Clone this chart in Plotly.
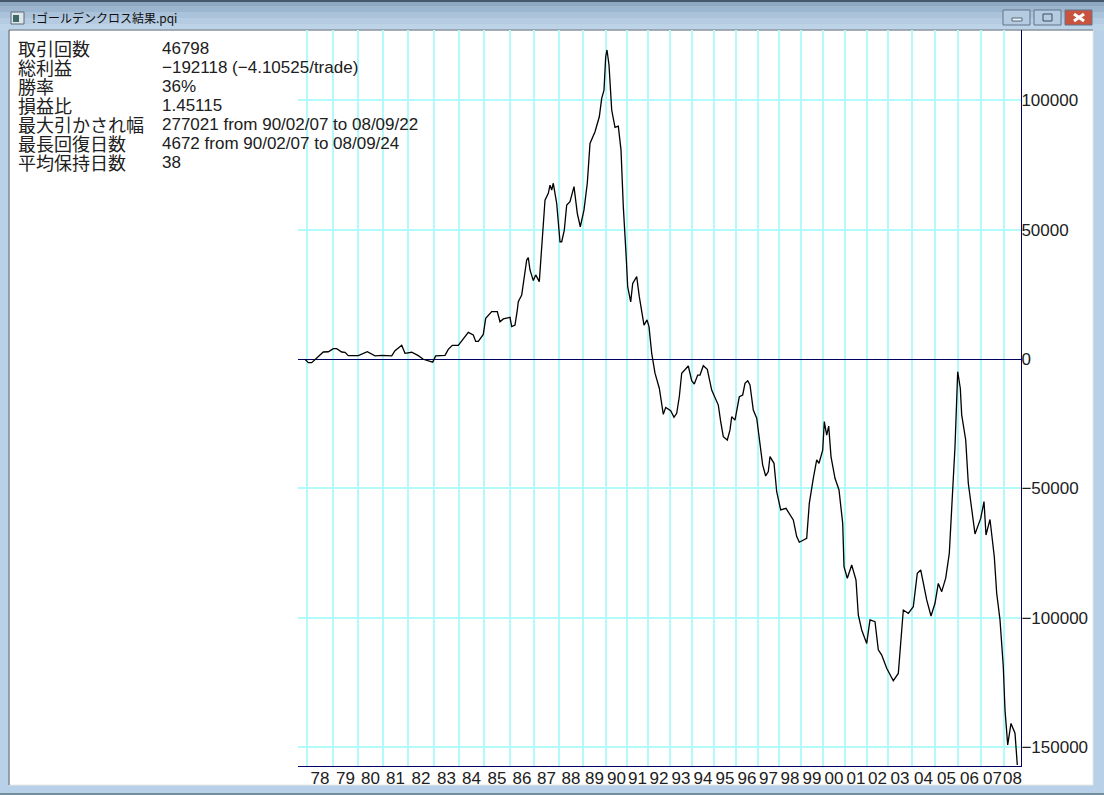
import plotly.graph_objects as go

W, H = 1104, 795
PX0, PX1, PY0, PY1 = 298, 1021, 30, 766

title = "!ゴールデンクロス結果.pqi"
stat_names = ["取引回数", "総利益", "勝率", "損益比", "最大引かされ幅", "最長回復日数", "平均保持日数"]
stat_values = ["46798", "−192118 (−4.10525/trade)", "36%", "1.45115",
               "277021 from 90/02/07 to 08/09/22", "4672 from 90/02/07 to 08/09/24", "38"]

year_labels = ["78", "79", "80", "81", "82", "83", "84", "85", "86", "87", "88", "89", "90", "91", "92", "93",
               "94", "95", "96", "97", "98", "99", "00", "01", "02", "03", "04", "05", "06", "07", "08"]
year_starts = [9, 35, 60, 85, 110, 136, 161, 186, 212, 236, 261, 285, 308, 329, 350, 372,
               394, 416, 438, 460, 481, 503, 525, 547, 569, 590, 614, 637, 660, 683, 706]
session_end = 723

y_ticks = [100000, 50000, 0, -50000, -100000, -150000]
y_text = ["100000", "50000", "0", "−50000", "−100000", "−150000"]

session = [7, 10.3, 13.7, 18.7, 25.3, 30.3, 35.3, 38.7, 43.7, 47, 50.3, 60.3, 69.3, 77, 83.7, 93.7, 97, 103.7, 107,
           113.7, 120.3, 125.3, 134.7, 137.7, 147, 150.3, 154.3, 160.3, 170.3, 175.3, 177.7, 180.3, 185.3, 187.7,
           193.7, 199.3, 202, 205.3, 212, 213.7, 217, 219.3,
           220.3, 223.7, 228.7, 230.3, 232, 235.3, 237.7, 241.3, 244.3, 247, 250.3, 252, 253.7, 255.3, 258.7, 262,
           263.7, 266.3, 268.7, 272, 276, 279.3, 282.3, 286, 289.3, 292, 297, 301.3, 303.7, 306, 307.7, 309, 311,
           313.7, 317, 320.3, 323, 325.3, 328, 329.7, 332.7, 334.7, 338.7, 341.3, 346, 349, 351, 353.7,
           357, 361.3, 365.3, 367.7, 372.7, 376, 378.7, 381.3, 383.7, 390.3, 393.7, 396.3, 399.7, 402, 405.3, 409.3,
           413.7, 420.3, 422.7, 425.3, 429.3, 432, 433.7, 437, 441.3, 444.7, 447, 449.7, 452, 455.3, 458.7, 462,
           464.7, 467.7, 470.3, 472, 476, 478.7, 482.7, 488, 495.3, 498.7, 501.3, 508.7, 511.3, 515.3, 518.7, 521,
           524.7, 526.3, 528.7, 530.7, 533, 537, 541, 544.7, 546,
           549.3, 553.7, 558, 560.3, 563.7, 568.7, 572, 577, 580.3, 583.7, 588.7, 595.3, 600.3, 602.7, 605.3, 610.3,
           615.3, 619.3, 622.7, 628.7, 633, 637, 640.3, 643.7, 647.7, 651.3, 653.7, 657, 659.7, 662.3, 663.7, 667.7,
           670.3, 672.7, 677, 682.7, 686, 688, 692, 696.3, 698.7, 702, 705.3, 707, 709.7, 713, 717, 719.3, 722.7]
equity = [-100, -1400, -1400, 300, 2700, 2800, 4000, 4000, 2700, 2600, 1300, 1300, 2800, 1200, 1400, 1200, 3200, 5300, 2200,
          2600, 1300, -100, -1200, 1200, 1400, 3700, 5300, 5300, 10300, 9300, 6800, 6800, 9500, 15700,
          18300, 18300, 14400, 15500, 16100, 12500, 13100, 18900,
          22150, 24700, 38250, 39150, 34400, 30300, 32500, 29900, 47300, 61400, 64000, 67200, 65300, 67900, 60100, 45300,
          45300, 49800, 59500, 60800, 66600, 56300, 51100, 57600, 67900, 83300, 87800, 93600, 100700, 103900, 116800, 119400, 113600,
          96200, 89500, 90000, 80800, 58900, 40800, 27900, 22100, 29200, 31800, 24100, 13100, 15100, 12500, 2200,
          -5500, -11300, -21400, -18700, -20000, -22500, -21000, -14600, -5500, -2700, -8400, -9700, -6200, -6200, -2600, -4000,
          -12000, -17800, -24200, -30000, -31300, -27400, -22300, -23600, -14600, -13900, -9400, -8400, -10000, -19700,
          -22900, -33900, -41000, -45200, -43500, -37700, -40300, -51300, -58300, -57700, -62200, -68600, -70800, -69300, -55800, -46100,
          -39000, -40300, -35200, -24200, -29400, -25900, -37700, -46100, -50600,
          -63500, -80200, -84700, -79600, -85400, -98900, -104700, -109900, -100800, -101500, -112400, -114400, -119500, -124300, -121500,
          -108000, -97000, -98300, -95700, -82800, -81500, -93100, -99300, -94400, -86700, -89900, -84700, -75100, -57100, -33900, -4900,
          -11300, -21600, -31300, -48000, -54500, -67600, -61600, -55100, -68000, -62000, -76400, -90500, -100800, -118900, -135600, -149100, -140800, -144600, -156900]

GRID = "#b4fafa"
NAVY = "#000060"
SCALE = 0.002588


def fx(p):
    return p / W


def fy(p):
    return 1 - p / H


shapes = []
# window title bar gradient
bands = [(0, "#46586c"), (2, "#8ea8c2"), (6, "#9db6d0"), (12, "#aac2da"), (18, "#b4cbe1"), (24, "#bdd3e8")]
for i, (top, col) in enumerate(bands):
    bottom = bands[i + 1][0] if i + 1 < len(bands) else 31
    shapes.append(dict(type="rect", xref="paper", yref="paper", x0=0, x1=1, y0=fy(top), y1=fy(bottom),
                       fillcolor=col, line_width=0, layer="below"))
# client area and window edges
shapes.append(dict(type="rect", xref="paper", yref="paper", x0=fx(9), x1=fx(1093), y0=fy(30), y1=fy(785),
                   fillcolor="white", line=dict(color="#e6e6e6", width=1), layer="below"))
for x0, y0, x1, y1, col in [(9, 30, 9, 785, "#4a5a5e"), (9, 30, 1093, 30, "#5a6c7c"), (0, 794, 1104, 794, "#304a50")]:
    shapes.append(dict(type="line", xref="paper", yref="paper", x0=fx(x0), x1=fx(x1), y0=fy(y0), y1=fy(y1),
                       line=dict(color=col, width=1), layer="below"))
# icon
shapes.append(dict(type="rect", xref="paper", yref="paper", x0=fx(11), x1=fx(24), y0=fy(12), y1=fy(24),
                   fillcolor="#dfe6ea", line=dict(color="#5a6a78", width=1), layer="below"))
shapes.append(dict(type="rect", xref="paper", yref="paper", x0=fx(13), x1=fx(19), y0=fy(15), y1=fy(22),
                   fillcolor="#3c6a66", line_width=0, layer="below"))
# window buttons
for x0, x1, col in [(1003, 1030, "#b4cbe0"), (1034, 1061, "#b4cbe0"), (1065, 1092, "#c8533f")]:
    shapes.append(dict(type="rect", xref="paper", yref="paper", x0=fx(x0), x1=fx(x1), y0=fy(10), y1=fy(25),
                       fillcolor=col, line=dict(color="#60758c", width=1), layer="below"))
shapes.append(dict(type="rect", xref="paper", yref="paper", x0=fx(1012), x1=fx(1022), y0=fy(18), y1=fy(21),
                   fillcolor="#eef3f8", line=dict(color="#54687e", width=1), layer="above"))
shapes.append(dict(type="rect", xref="paper", yref="paper", x0=fx(1043), x1=fx(1052), y0=fy(14), y1=fy(21),
                   fillcolor="#b4cbe0", line=dict(color="#3c4c60", width=1), layer="above"))
for a, b in [(14, 21), (21, 14)]:
    shapes.append(dict(type="line", xref="paper", yref="paper", x0=fx(1074), x1=fx(1084), y0=fy(a), y1=fy(b),
                       line=dict(color="white", width=3), layer="above"))

annotations = [dict(text=title, xref="paper", yref="paper", x=fx(30), y=fy(18), xanchor="left", yanchor="middle",
                    showarrow=False, font=dict(family="Noto Sans CJK JP", size=12, color="#101010"))]
row_centres = [48, 67, 86, 105, 124, 143, 162]
for name, val, cy in zip(stat_names, stat_values, row_centres):
    annotations.append(dict(text=name, xref="paper", yref="paper", x=fx(16), y=fy(cy), xanchor="left", yanchor="middle",
                            showarrow=False, font=dict(family="Noto Sans CJK JP", size=18, color="#202020")))
    annotations.append(dict(text=val, xref="paper", yref="paper", x=fx(160), y=fy(cy + 1), xanchor="left", yanchor="middle",
                            showarrow=False, font=dict(family="Liberation Sans", size=17, color="#202020")))

year_centres = [(a + b) / 2 for a, b in zip(year_starts, year_starts[1:] + [session_end])]

fig = go.Figure(go.Scatter(x=session, y=equity, mode="lines", line=dict(color="black", width=1.3), hoverinfo="skip"))
fig.update_layout(
    width=W, height=H, margin=dict(l=0, r=0, t=0, b=0), autosize=False,
    paper_bgcolor="#b9d1e8", plot_bgcolor="rgba(0,0,0,0)", showlegend=False,
    shapes=shapes, annotations=annotations,
    xaxis=dict(domain=[fx(PX0), fx(PX1)], range=[0, PX1 - PX0], tickmode="array", tickvals=year_centres,
               ticktext=year_labels, ticks="", showgrid=False, zeroline=False, showline=True, linecolor=NAVY, linewidth=1,
               tickfont=dict(family="Liberation Sans", size=17, color="#202020"), tickangle=0, ticklabelstandoff=-3,
               minor=dict(tickmode="array", tickvals=year_starts, showgrid=True, gridcolor=GRID, gridwidth=2, ticks="")),
    yaxis=dict(domain=[fy(PY1), fy(PY0)], range=[(359 - PY1) / SCALE, (359 - PY0) / SCALE], side="right", tickmode="array",
               tickvals=y_ticks, ticktext=y_text, ticks="", showgrid=True, gridcolor=GRID, gridwidth=2,
               zeroline=True, zerolinecolor=NAVY, zerolinewidth=1, showline=True, linecolor=NAVY, linewidth=1,
               tickfont=dict(family="Liberation Sans", size=17, color="#202020"), ticklabelstandoff=-4),
)
fig.write_html("out.html", config=dict(displayModeBar=False),
               post_script="document.body.style.margin='0';document.body.style.overflow='hidden';")
